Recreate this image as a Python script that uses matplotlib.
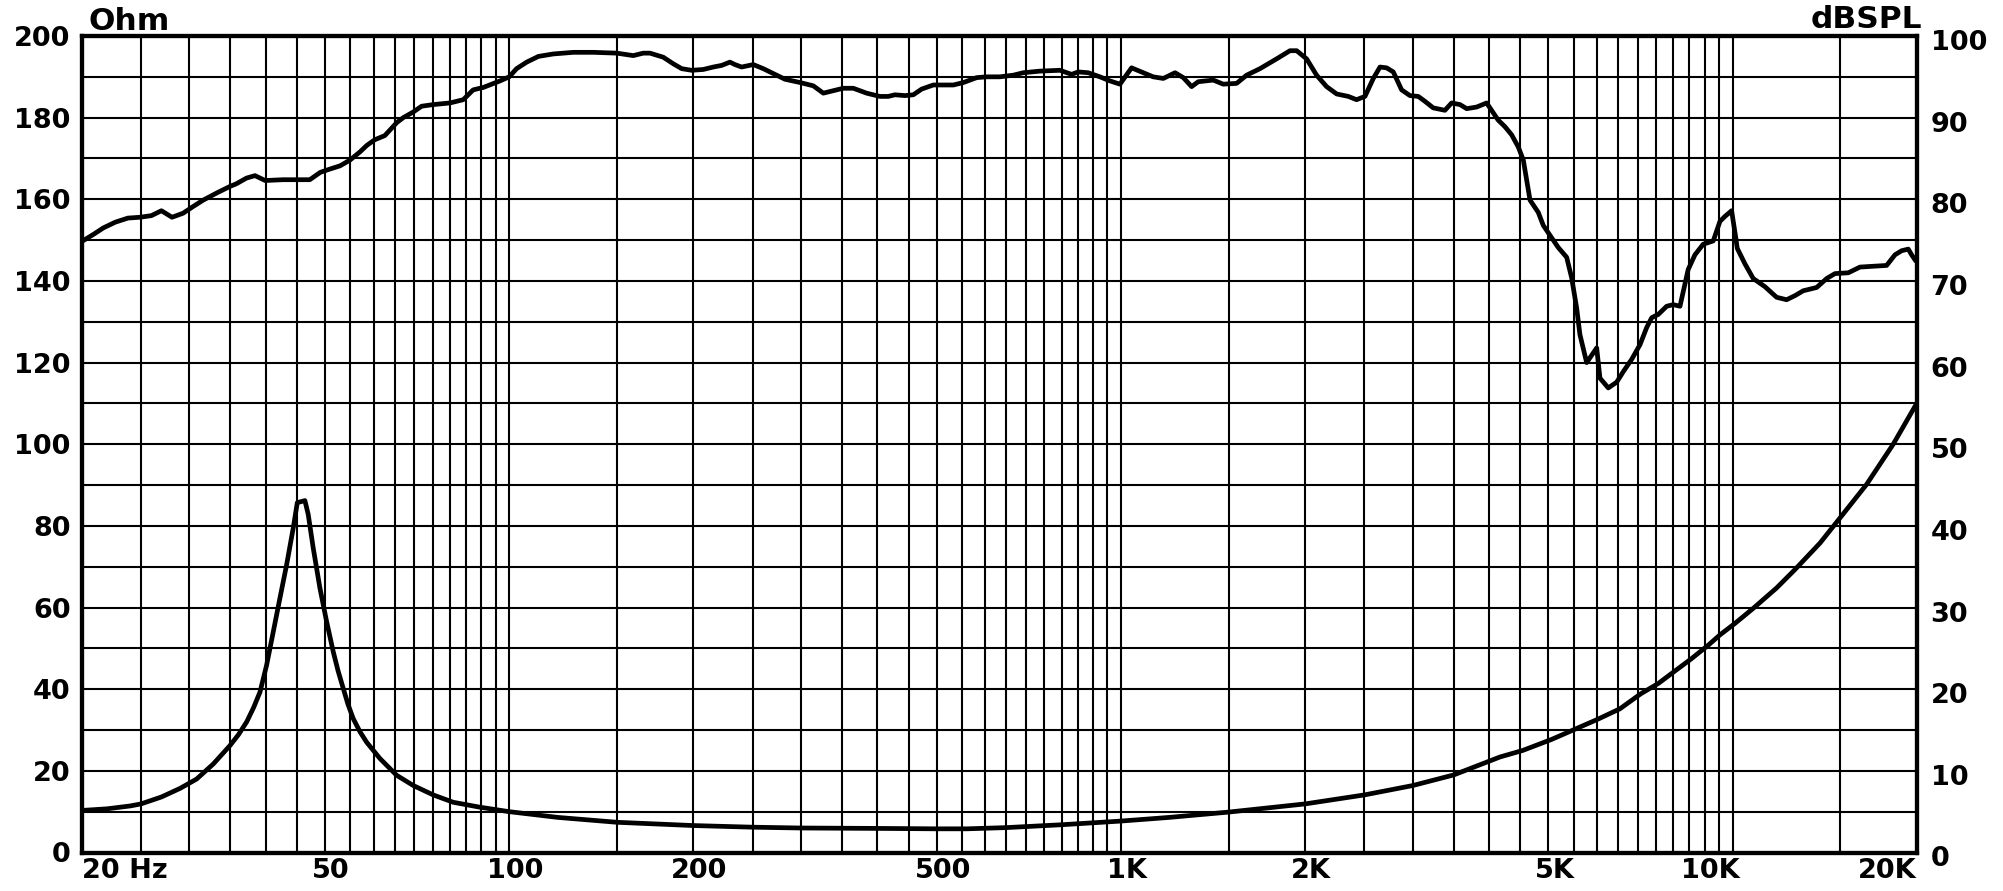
import numpy as np
import matplotlib
matplotlib.use('Agg')
import matplotlib.pyplot as plt
from matplotlib.ticker import FixedLocator, NullFormatter
from matplotlib.transforms import ScaledTranslation
from matplotlib.font_manager import FontProperties

# ---------------- data ----------------
spl_freq = [20.07, 20.9, 21.7, 22.7, 23.8, 24.9, 26.0, 27.0, 28.1, 29.3, 30.4, 31.6, 33.3, 35.0,
            35.8, 37.2, 38.4, 39.9, 42.7, 47.2, 49.1, 50.9, 52.9, 54.9, 57.0, 58.5, 60.3, 62.6,
            65.5, 67.1, 69.7, 71.9, 75.1, 80.0, 84.1, 87.3, 90.7, 96.6,
            100, 102.8, 106.8, 111.6, 118, 127.3, 137.3, 149.9, 159.5, 165.6, 169.9, 178.6,
            185.4, 191.4, 198.7, 207.6, 215.6, 222.5, 229.5, 233.9, 239.8, 250.6, 260.2, 270.2,
            282.4, 298.9, 314.1, 326.2, 338.7, 351.6, 365.2, 383.9, 403.6, 416.5, 427.1, 443.6,
            457.7, 472.4, 493.5, 532.2, 552.6, 581, 603.4, 634,
            666.8, 692.4, 737.4, 795, 830.6, 851.8, 884.3, 924, 959.6, 996.4, 1041, 1088, 1129,
            1173, 1226, 1265, 1305, 1338, 1416, 1470, 1546, 1605, 1688, 1797, 1890, 1938, 2012,
            2089, 2169, 2253, 2354, 2428, 2506, 2586, 2652, 2719, 2788, 2877, 2969, 3063, 3141,
            3240, 3386, 3473, 3584, 3676, 3816, 3962, 4036, 4138, 4244, 4353, 4464, 4549, 4607,
            4665, 4812, 4904, 5029, 5188, 5355, 5456, 5560, 5630, 5774, 5996, 6070, 6263, 6464,
            6628, 6840, 7058, 7238, 7376, 7560, 7803, 7998, 8204, 8356, 8461, 8679, 8954, 9298,
            9536, 9716, 9964, 10126, 10177, 10476, 10808, 11295, 11803, 12256, 12647, 13050,
            13724, 14252, 14704, 15460, 16156, 16986, 17860, 18428, 18896, 19376, 19622, 19868]
spl_db = [74.9, 75.7, 76.5, 77.2, 77.7, 77.8, 78.0, 78.6, 77.8, 78.3, 79.1, 79.9, 80.8, 81.6,
          81.9, 82.6, 82.9, 82.3, 82.4, 82.4, 83.3, 83.7, 84.1, 84.8, 85.8, 86.6, 87.3, 87.8,
          89.4, 90.0, 90.7, 91.4, 91.6, 91.8, 92.2, 93.4, 93.7, 94.5,
          95.0, 96.0, 96.8, 97.5, 97.8, 98.0, 98.0, 97.9, 97.6, 97.9, 97.9, 97.4,
          96.6, 96.0, 95.8, 95.9, 96.2, 96.4, 96.8, 96.5, 96.2, 96.5, 96.0, 95.4,
          94.7, 94.3, 93.9, 93.0, 93.3, 93.6, 93.6, 93.0, 92.6, 92.6, 92.8, 92.7,
          92.8, 93.5, 94.0, 94.0, 94.3, 94.9, 95.0, 95.0,
          95.2, 95.5, 95.7, 95.8, 95.3, 95.6, 95.5, 95.0, 94.5, 94.1, 96.1, 95.5, 95.0,
          94.8, 95.5, 94.9, 93.8, 94.4, 94.6, 94.1, 94.2, 95.2, 96.0, 97.2, 98.2, 98.2, 97.2,
          95.2, 93.8, 92.9, 92.6, 92.2, 92.6, 94.8, 96.2, 96.1, 95.6, 93.4, 92.7, 92.6, 92.0,
          91.2, 90.9, 91.8, 91.6, 91.1, 91.3, 91.8, 90.9, 89.7, 88.9, 87.9, 86.4, 84.8, 82.3,
          79.9, 78.4, 76.8, 75.6, 74.1, 72.9, 70.4, 66.7, 63.4, 60.0, 61.8, 58.1, 56.9, 57.6,
          58.9, 60.4, 62.2, 64.3, 65.5, 65.9, 66.9, 67.1, 66.9, 69.6, 71.4, 73.2, 74.5, 74.9,
          77.3, 77.9, 78.6, 75.2, 74.0, 72.1, 70.3, 69.3, 68.0, 67.7, 68.2, 68.8,
          69.2, 70.3, 70.9, 71.0, 71.7, 71.8, 71.9, 73.2, 73.7, 73.9, 73.2, 72.6]

imp_freq = [20, 22, 24, 25, 27, 28.96, 30.83, 32.83, 34.95, 36.1, 37.22, 38.2, 39.13, 40.12,
            41.14, 42.18, 43.26, 44.35, 45.03, 46.34, 46.92, 47.81, 49.03, 50.28, 51.55, 52.5,
            53.53, 54.5, 55.58, 57.0, 58.47, 61.48, 65.47, 69.70, 75.13, 81.0, 89.5, 100, 120,
            150, 200, 250, 300, 400, 500, 560, 650, 800, 1000, 1200, 1500, 2000, 2500, 3000,
            3500, 4167, 4539, 5060, 5545, 6012, 6544, 7082, 7560, 8023, 8571, 9128, 9536, 10087,
            10808, 11803, 12647, 13899, 15141, 16568, 18306, 20000]
imp_ohm = [10.3, 10.7, 11.4, 11.9, 13.6, 15.7, 18.0, 21.7, 26.2, 28.9, 32.0, 35.5, 39.3, 45.9,
           54.1, 62.3, 70.5, 79.5, 85.7, 86.2, 82.8, 74.6, 64.8, 56.6, 49.2, 44.5,
           40.2, 36.3, 32.8, 29.6, 27.0, 23.0, 18.9, 16.4, 14.1, 12.3, 11.1, 10.0, 8.6,
           7.4, 6.6, 6.2, 6.0, 5.9, 5.8, 5.8, 6.1, 6.8, 7.7, 8.6, 9.9, 11.9, 14.1, 16.4,
           19.0, 23.4, 25.0, 27.7, 30.3, 32.6, 35.2, 38.9, 41.4, 44.3, 47.5, 50.8, 53.3, 56.1,
           59.8, 64.8, 69.3, 75.8, 82.8, 90.2, 100.0, 110.0]

x_ticks = [20, 50, 100, 200, 500, 1000, 2000, 5000, 10000, 20000]
x_tick_labels = ['20 Hz', '50', '100', '200', '500', '1K', '2K', '5K', '10K', '20K']
ohm_ticks = list(range(0, 201, 20))
db_ticks = list(range(0, 101, 10))

# ---------------- figure ----------------
W, H = 2003, 891
fig = plt.figure(figsize=(W / 100, H / 100), dpi=100)
L, R, T, B = 81.7, 1916.7, 36.0, 852.5
ax = fig.add_axes([L / W, 1 - B / H, (R - L) / W, (B - T) / H])
ax.set_xscale('log')
ax.set_xlim(20, 20000)
ax.set_ylim(0, 200)

grid_x = np.concatenate([np.arange(25, 100, 5), np.arange(100, 1000, 50),
                         np.arange(1000, 10000, 500), np.arange(10000, 20000, 5000)])
ax.xaxis.set_major_locator(FixedLocator(x_ticks))
ax.xaxis.set_minor_locator(FixedLocator(grid_x))
ax.xaxis.set_minor_formatter(NullFormatter())
ax.set_xticks(x_ticks, x_tick_labels)
ax.yaxis.set_major_locator(FixedLocator(ohm_ticks))
ax.yaxis.set_minor_locator(FixedLocator(np.arange(10, 200, 20)))
ax.set_yticklabels([str(v) for v in ohm_ticks])
ax.grid(True, which='both', color='black', lw=1.5)
ax.set_axisbelow(True)

font = dict(family='DejaVu Sans', weight='bold', size=19.5)
ax.tick_params(axis='both', which='both', length=0)
ax.tick_params(axis='x', pad=4)
ax.tick_params(axis='y', pad=8)
for lab in ax.get_xticklabels() + ax.get_yticklabels():
    lab.set_fontproperties(FontProperties(**font))

xl = ax.get_xticklabels()
xl[0].set_horizontalalignment('left')
xl[-1].set_horizontalalignment('right')
xl[-2].set_transform(xl[-2].get_transform() + ScaledTranslation(-0.22, 0, fig.dpi_scale_trans))
for lab in xl[1:-2]:
    lab.set_transform(lab.get_transform() + ScaledTranslation(0.06, 0, fig.dpi_scale_trans))

for s in ax.spines.values():
    s.set_linewidth(3.0)
    s.set_color('black')

ax.plot(imp_freq, imp_ohm, color='black', lw=3.4, solid_joinstyle='round',
        solid_capstyle='butt', zorder=5)

ax2 = ax.twinx()
ax2.set_ylim(0, 100)
ax2.set_yticks(db_ticks)
ax2.set_yticklabels([str(v) for v in db_ticks])
ax2.tick_params(axis='y', length=0, pad=10)
for lab in ax2.get_yticklabels():
    lab.set_fontproperties(FontProperties(**font))
    lab.set_transform(lab.get_transform() + ScaledTranslation(0, -0.04, fig.dpi_scale_trans))
for s in ax2.spines.values():
    s.set_linewidth(3.0)
ax2.plot(spl_freq, spl_db, color='black', lw=3.4, solid_joinstyle='round', zorder=5)

fig.text(89 / W, 1 - 21 / H, 'Ohm', ha='left', va='center', family='DejaVu Sans',
         weight='bold', size=22.5)
fig.text(1922 / W, 1 - 20 / H, 'dBSPL', ha='right', va='center', family='DejaVu Sans',
         weight='bold', size=22.5)

fig.savefig('out.png', dpi=100, facecolor='white')
